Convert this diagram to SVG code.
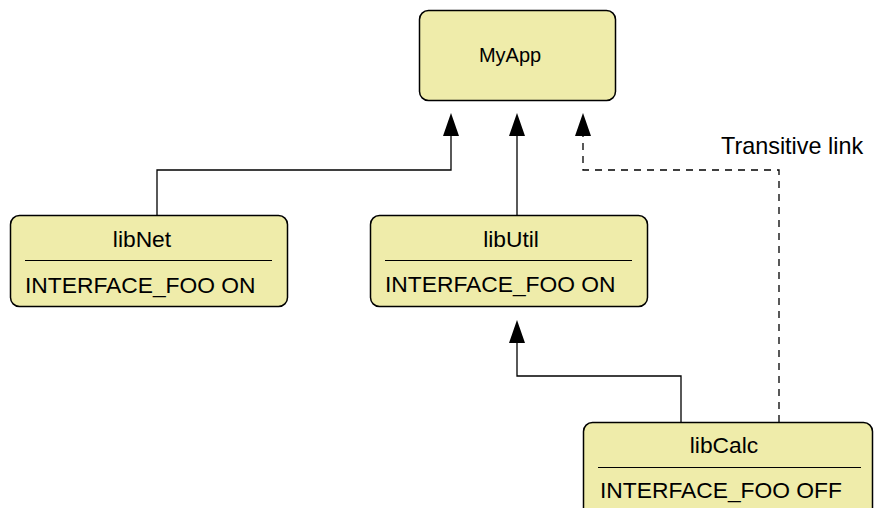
<svg xmlns="http://www.w3.org/2000/svg" width="874" height="508" viewBox="0 0 874 508">
<defs>
<style>
.box{fill:#EFECAA;stroke:#000;stroke-width:1.5}
.t{font-family:"Liberation Sans",Arial,sans-serif;font-size:22.8px;fill:#000}
.small{font-size:20px}
.tl{font-size:23.4px}
.sep{stroke:#000;stroke-width:1.2}
.ln{fill:none;stroke:#000;stroke-width:1.3}
.dash{stroke-dasharray:7 6}
.ah{fill:#000}
</style>
</defs>
<rect width="874" height="508" fill="#fff"/>
<g id="connectors">
<path class="ln" d="M157 215 V170 H451 V136"/>
<path class="ah" d="M451 113 L459 136 L443 136 Z"/>
<path class="ln" d="M517 215 V136"/>
<path class="ah" d="M517 113 L525 136 L509 136 Z"/>
<path class="ln dash" d="M779 422 V170 H583 V136"/>
<path class="ah" d="M583 113 L591 136 L575 136 Z"/>
<path class="ln" d="M681 422 V376 H517 V343"/>
<path class="ah" d="M517 320 L525 343 L509 343 Z"/>
<text class="t tl" x="721" y="154">Transitive link</text>
</g>
<g id="MyApp">
<rect class="box" x="419.5" y="10.5" width="196" height="90" rx="9"/>
<text class="t small" x="510" y="62" text-anchor="middle">MyApp</text>
</g>
<g id="libNet">
<rect class="box" x="10.5" y="215.5" width="277" height="91" rx="9"/>
<text class="t" x="142" y="247" text-anchor="middle">libNet</text>
<line class="sep" x1="25" y1="260.5" x2="272" y2="260.5"/>
<text class="t" x="25" y="293">INTERFACE_FOO ON</text>
</g>
<g id="libUtil">
<rect class="box" x="370.5" y="215.5" width="277" height="91" rx="9"/>
<text class="t" x="511" y="247" text-anchor="middle">libUtil</text>
<line class="sep" x1="385" y1="260.5" x2="632" y2="260.5"/>
<text class="t" x="385" y="292">INTERFACE_FOO ON</text>
</g>
<g id="libCalc">
<rect class="box" x="583.5" y="422.5" width="289" height="110" rx="9"/>
<text class="t" x="724" y="453" text-anchor="middle">libCalc</text>
<line class="sep" x1="598" y1="467.5" x2="861" y2="467.5"/>
<text class="t" x="600" y="498">INTERFACE_FOO OFF</text>
</g>
</svg>
